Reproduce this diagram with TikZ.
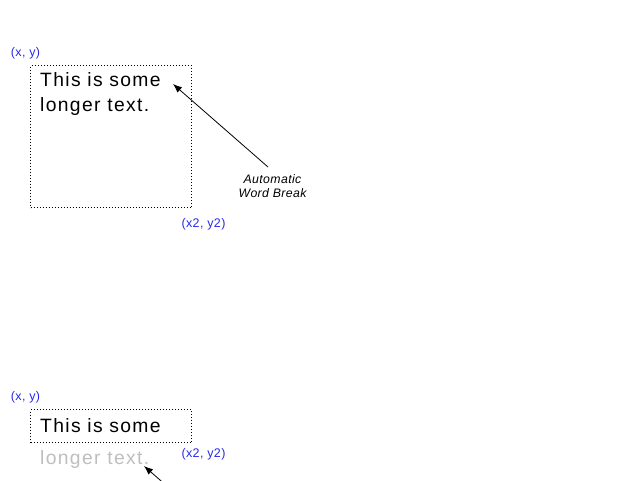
\documentclass[tikz,border=0pt]{standalone}
\usepackage{fontspec}
\setmainfont{Liberation Sans}
\usetikzlibrary{arrows.meta}
\definecolor{lblblue}{RGB}{40,40,235}
\definecolor{ghost}{RGB}{190,190,190}
\tikzset{
  bigtext/.style={inner sep=0, anchor=base west, font=\fontsize{19.3}{25}\selectfont\addfontfeature{LetterSpace=7}},
  coord/.style={inner sep=0, text=lblblue, font=\fontsize{12.5}{14}\selectfont\addfontfeature{LetterSpace=3}},
  framebox/.style={draw, dotted, line width=1pt, inner sep=0, anchor=north west},
  note/.style={inner sep=0, align=center, font=\fontsize{12.3}{14}\selectfont\itshape\addfontfeature{LetterSpace=3}},
  pointer/.style={-{Latex[length=9pt,width=7pt]}, line width=0.8pt}
}
\begin{document}
\begin{tikzpicture}[x=1pt,y=-1pt]
\useasboundingbox (0,0) rectangle (640,480);
\clip (0,0) rectangle (640,480);
% top example
\node[framebox, minimum width=161pt, minimum height=142pt] (box1) at (30,65) {};
\node[coord] (xy1) at (25.5,53) {(x, y)};
\node[coord] (xy21) at (203.5,224) {(x2, y2)};
\node[bigtext] (t1a) at (40,86) {This is some};
\node[bigtext] (t1b) at (40,111) {longer text.};
\node[note] (lab) at (272.5,186) {Automatic\\Word Break};
\coordinate (s1) at (268,167);
\coordinate (e1) at (173,84);
\draw[pointer] (s1) -- (e1);
% bottom example
\node[framebox, minimum width=161pt, minimum height=33pt] (box2) at (30,409) {};
\node[coord] (xy2) at (25.5,397) {(x, y)};
\node[coord] (xy22) at (203.5,454) {(x2, y2)};
\node[bigtext] (t2a) at (40,432) {This is some};
\node[bigtext, text=ghost] (t2b) at (40,464) {longer text.};
\coordinate (s2) at (239,549);
\coordinate (e2) at (144,466);
\draw[pointer] (s2) -- (e2);
\end{tikzpicture}
\end{document}
